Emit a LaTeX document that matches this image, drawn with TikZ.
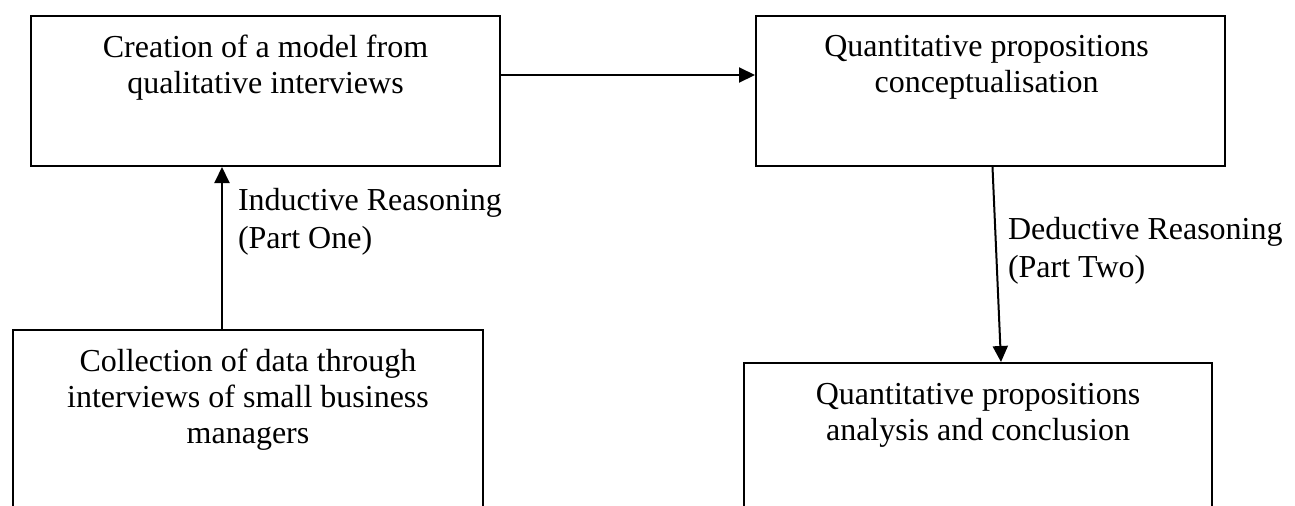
\documentclass[tikz,border=0pt]{standalone}
\usepackage{fontspec}
\setmainfont{Liberation Serif}
\usetikzlibrary{arrows.meta,positioning}

\begin{document}
\begin{tikzpicture}[x=0.5pt, y=-0.5pt, line width=1pt,
    box/.style={draw, anchor=north west, minimum width=234.5pt,
                minimum height=75pt, inner sep=0pt},
    boxtext/.style={anchor=north, align=center, inner sep=0pt,
                    font=\fontsize{16}{18}\selectfont},
    reason/.style={anchor=north west, align=left, inner sep=0pt,
                   font=\fontsize{16}{19.2}\selectfont},
    arr/.style={-{Triangle[length=8pt,width=7.5pt]}}]
\clip (0,0) rectangle (1295,505);

% boxes (lower two run off the page)
\node[box] (model) at (30,15) {};
\node[box] (concept) at (755,15) {};
\node[box, minimum width=235pt, minimum height=110pt] (collect) at (12,329) {};
\node[box, minimum width=234pt, minimum height=100pt] (result) at (743,362) {};

\node[boxtext, below=9.5pt of model.north] (modeltxt)
  {Creation of a model from\\qualitative interviews};
\node[boxtext, below=9.5pt of concept.north, xshift=-2pt] (concepttxt)
  {Quantitative propositions\\conceptualisation};
\node[boxtext, below=9.5pt of collect.north] (collecttxt)
  {Collection of data through\\interviews of small business\\managers};
\node[boxtext, below=10pt of result.north] (resulttxt)
  {Quantitative propositions\\analysis and conclusion};

% connectors
\draw[arr] ([yshift=8pt]model.east) -- ([yshift=8pt]concept.west);
\draw[arr] ([xshift=-13pt]collect.north) -- ([xshift=-13pt]collect.north |- model.south);
\draw[arr] ([xshift=1pt]concept.south) -- ([xshift=11.5pt]result.north);

\node[reason] (induct) at (237,187) {Inductive Reasoning\\(Part One)};
\node[reason] (deduct) at (1007,216) {Deductive Reasoning\\(Part Two)};
\end{tikzpicture}
\end{document}
